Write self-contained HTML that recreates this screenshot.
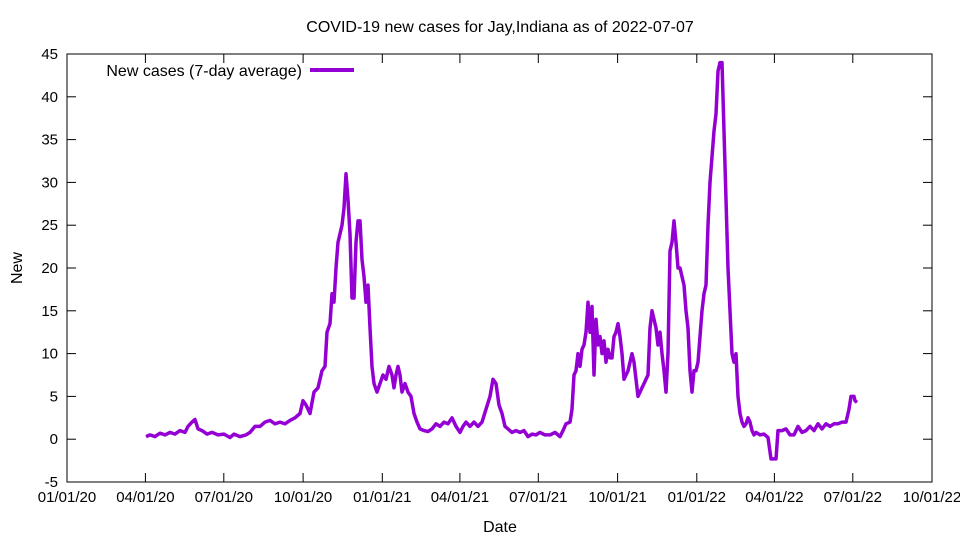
<!DOCTYPE html>
<html><head><meta charset="utf-8"><style>body{margin:0;background:#fff}svg{display:block}text{font-family:"Liberation Sans",sans-serif;font-size:15px;fill:#000}.b{font-size:16px}</style></head>
<body><svg id="s" width="960" height="540" xmlns="http://www.w3.org/2000/svg">
<rect x="67" y="54" width="865" height="428" fill="none" stroke="#000" stroke-width="1"/>
<text class="b" x="500" y="32" text-anchor="middle">COVID-19 new cases for Jay,Indiana as of 2022-07-07</text>
<text class="b" x="500" y="532" text-anchor="middle">Date</text>
<text class="b" x="22" y="268" text-anchor="middle" transform="rotate(-90 22 268)">New</text>
<text class="b" x="302" y="76" text-anchor="end">New cases (7-day average)</text>
<line x1="310" y1="70" x2="354" y2="70" stroke="#9400d3" stroke-width="4"/>
<g id="ax"></g>
<polyline id="pl" fill="none" stroke="#9400d3" stroke-width="3.5" stroke-linejoin="round"/>
</svg>
<script>
var ax=document.getElementById('ax'),h='';
function Y(v){return 439.2-8.56*v}
for(var v=-5;v<=45;v+=5){var y=Y(v).toFixed(1);h+='<line x1="67" x2="76" y1="'+y+'" y2="'+y+'" stroke="#000"/><line x1="923" x2="932" y1="'+y+'" y2="'+y+'" stroke="#000"/><text x="58" y="'+(+y+5)+'" text-anchor="end">'+v+'</text>';}
var L=['01/01/20','04/01/20','07/01/20','10/01/20','01/01/21','04/01/21','07/01/21','10/01/21','01/01/22','04/01/22','07/01/22','10/01/22'],D=[0,91,182,274,366,456,547,639,731,821,912,1004];
for(var i=0;i<L.length;i++){var x=(67+D[i]*0.8616).toFixed(1);h+='<line x1="'+x+'" x2="'+x+'" y1="482" y2="473" stroke="#000"/><line x1="'+x+'" x2="'+x+'" y1="54" y2="63" stroke="#000"/><text x="'+x+'" y="502" text-anchor="middle">'+L[i]+'</text>';}
ax.innerHTML=h;
var d=[146,0.3,150,0.5,155,0.3,160,0.7,165,0.5,170,0.8,175,0.6,180,1.0,185,0.8,188,1.5,192,2.0,195,2.3,198,1.2,202,1.0,207,0.6,212,0.8,218,0.5,224,0.6,230,0.2,234,0.6,240,0.3,246,0.5,250,0.8,255,1.5,260,1.5,265,2.0,270,2.2,275,1.8,280,2.0,285,1.8,290,2.2,295,2.5,300,3.0,303,4.5,306,4.0,310,3.0,314,5.5,318,6.0,322,8.0,325,8.5,327,12.5,330,13.5,332,17,334,16,336,20,338,23,340,24,342,25,344,27,346,31,348,28,350,24,352,16.5,354,16.5,356,23,358,25.5,360,25.5,362,21,364,19,366,16,368,18,370,13,372,8.5,374,6.5,377,5.5,380,6.5,383,7.5,386,7,389,8.5,392,7.5,394,6,396,7.5,398,8.5,400,7.5,402,5.5,405,6.5,408,5.5,411,5,414,3,417,2,420,1.2,424,1,428,0.9,432,1.2,436,1.8,440,1.5,444,2,448,1.8,452,2.5,456,1.5,460,0.8,463,1.5,466,2,470,1.5,474,2,478,1.5,482,2,486,3.5,490,5,493,7,496,6.5,499,4,502,3,505,1.5,508,1.2,512,0.8,516,1,520,0.8,524,1,528,0.3,532,0.6,536,0.5,540,0.8,545,0.5,550,0.5,555,0.8,560,0.3,563,1,566,1.8,570,2,572,3.5,574,7.5,576,8,578,10,580,8.5,582,10.5,584,11,586,12.5,588,16,590,12.5,592,15.5,594,7.5,596,14,598,11,600,12,602,10,604,11.5,606,9,608,10.5,610,9.5,612,9.5,614,12,616,12.5,618,13.5,620,12,622,10,624,7,626,7.5,628,8,630,9,632,10,634,9,636,7,638,5,640,5.5,642,6,644,6.5,646,7,648,7.5,650,13,652,15,654,14,656,13,658,11,660,12.5,662,10,664,8,666,5.5,668,10,670,22,672,23,674,25.5,676,23,678,20,680,20,682,19,684,18,686,15,688,13,690,8,692,5.5,694,8,696,8,698,9,700,12,702,15,704,17,706,18,708,25,710,30,712,33,714,36,716,38,718,43,720,44,722,44,724,36,726,28,728,20,730,15,732,10,734,9,736,10,738,5,740,3,742,2,744,1.5,746,1.8,748,2.5,750,2,752,1,754,0.5,756,0.8,760,0.5,764,0.6,768,0.2,771,-2.3,776,-2.3,778,1,782,1,786,1.2,790,0.5,794,0.5,798,1.5,802,0.8,806,1,810,1.5,814,1,818,1.8,822,1.2,826,1.8,830,1.5,834,1.8,838,1.8,842,2,846,2,849,3.5,851,5,854,5,855,4.5,857,4.3];
var p=[];for(var i=0;i<d.length;i+=2)p.push(d[i]+','+Y(d[i+1]).toFixed(1));
document.getElementById('pl').setAttribute('points',p.join(' '));
</script></body></html>
